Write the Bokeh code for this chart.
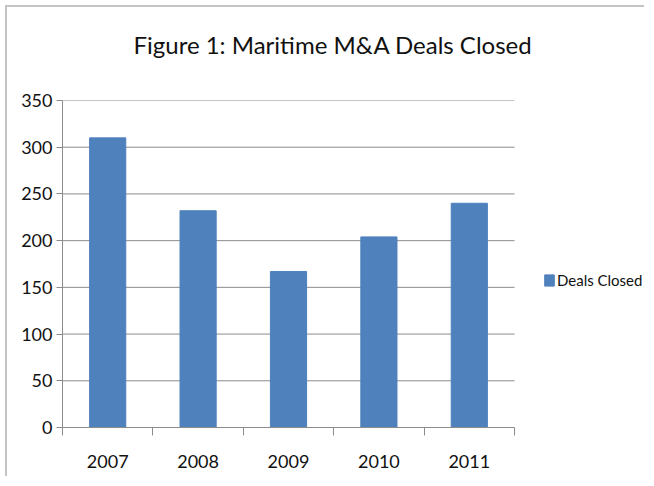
from bokeh.plotting import figure
from bokeh.models import Range1d, FixedTicker, Legend, LegendItem, ColumnDataSource, Title
from bokeh.embed import file_html
from bokeh.resources import INLINE

years = ["2007", "2008", "2009", "2010", "2011"]
deals_closed = [310, 232, 167, 204, 240]
y_ticks = [0, 50, 100, 150, 200, 250, 300, 350]
title_text = "Figure 1: Maritime M&A Deals Closed"
series_name = "Deals Closed"

n = len(years)
pos = [i + 0.5 for i in range(n)]
src = ColumnDataSource(dict(x=pos, top=deals_closed, year=years))

# layout (page pixels)
OFF = 7                      # outer frame offset (margin + border)
W, H = 646 - OFF, 478 - OFF
LEFT, PLOT_RIGHT = 62 - OFF, 514 - OFF
x_end = n * (W - LEFT) / (PLOT_RIGHT - LEFT)

FONT = "Lato"
p = figure(width=W, height=H, output_backend="svg", toolbar_location=None,
           x_range=Range1d(0, x_end), y_range=Range1d(0, 350),
           min_border_left=LEFT, min_border_right=0, min_border_top=100 - OFF,
           min_border_bottom=H - (427 - OFF))
p.margin = (5, 0, 0, 5)
p.styles = {"border-left": "2px solid #c4c4c4", "border-top": "2px solid #c4c4c4"}
p.outline_line_color = None

p.title.text = ""
p.title.text_font_size = "1px"
# spacer next to the frame, main title above it
spacer = Title(text=" ", text_font_size="22px")
p.add_layout(spacer, "above")
main_title = Title(text=title_text, align="left", offset=71, text_font=FONT,
                   text_font_size="24px", text_font_style="normal", text_color="#111111")
p.add_layout(main_title, "above")

p.xgrid.visible = False
p.ygrid.visible = False
p.segment(x0=[0] * len(y_ticks), x1=[n] * len(y_ticks), y0=y_ticks, y1=y_ticks,
          line_color="#8c8c8c", line_width=1)

r = p.vbar(x="x", top="top", width=0.4, source=src, fill_color="#4F81BD", line_color="#4F81BD")

xa = p.xaxis[0]
xa.bounds = (0, n)
xa.ticker = FixedTicker(ticks=pos, minor_ticks=list(range(n + 1)))
xa.major_label_overrides = {x: y for x, y in zip(pos, years)}
xa.major_tick_out = 0
xa.major_tick_in = 0
xa.minor_tick_out = 8
xa.minor_tick_in = 0
xa.minor_tick_line_color = "#8c8c8c"
xa.axis_line_color = "#8c8c8c"
xa.major_label_standoff = 19
xa.major_label_text_font = FONT
xa.major_label_text_font_size = "18px"
xa.major_label_text_color = "#111111"

ya = p.yaxis[0]
ya.ticker = FixedTicker(ticks=y_ticks)
ya.minor_tick_line_color = None
ya.major_tick_out = 6
ya.major_tick_in = 0
ya.major_tick_line_color = "#8c8c8c"
ya.axis_line_color = "#8c8c8c"
ya.major_label_standoff = 4
ya.major_label_text_font = FONT
ya.major_label_text_font_size = "18px"
ya.major_label_text_color = "#111111"

legend = Legend(items=[LegendItem(label=series_name, renderers=[r])],
                location=(481, 138), border_line_color=None, background_fill_alpha=0,
                label_text_font=FONT, label_text_font_size="15px", label_text_color="#111111",
                glyph_width=12, glyph_height=14, label_standoff=2, padding=0, margin=0,
                label_height=14)
p.add_layout(legend)

open("out.html", "w").write(file_html(p, INLINE))
